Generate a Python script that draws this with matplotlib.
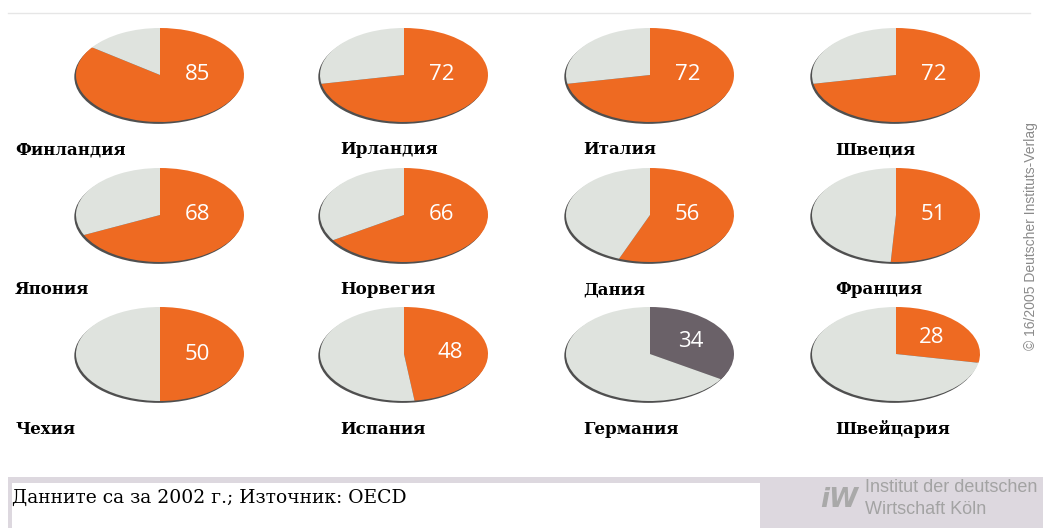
import matplotlib
matplotlib.use('Agg')
import matplotlib.pyplot as plt
import numpy as np
from matplotlib.patches import Ellipse, Rectangle

W, H = 1043, 528

# Data
countries = ["Финландия", "Ирландия", "Италия", "Швеция",
             "Япония", "Норвегия", "Дания", "Франция",
             "Чехия", "Испания", "Германия", "Швейцария"]
values = [85, 72, 72, 72, 68, 66, 56, 51, 50, 48, 34, 28]
highlight = ["Германия"]

note = "Данните са за 2002 г.; Източник: OECD"
copyright_text = "© 16/2005 Deutscher Instituts-Verlag"
logo_lines = ["Institut der deutschen", "Wirtschaft Köln"]

ORANGE = "#ee6a22"
LIGHT = "#dfe3de"
DARK = "#6a6168"
SHADOW = "#4f4f4f"

col_x = [160, 404, 650, 896]
row_y = [75, 215, 354]
label_x = [15, 340, 583, 835]
label_dy = 75
rx, ry = 84, 47

fig = plt.figure(figsize=(W / 100, H / 100), dpi=100)
bg = fig.add_axes([0, 0, 1, 1])
bg.set_xlim(0, W)
bg.set_ylim(H, 0)
bg.axis("off")

# top rule
bg.plot([8, 1030], [13, 13], color="#e6e6e6", lw=1)

# bottom band
bg.add_patch(Rectangle((8, 477), W - 8, H - 477, color="#ddd8df", lw=0))
bg.add_patch(Rectangle((12, 483), 748, H - 483, color="white", lw=0))
bg.text(12, 498, note, family="DejaVu Serif", fontsize=13.5, va="center", ha="left", color="black")
bg.text(820, 500, "iW", family="DejaVu Sans", fontsize=19, fontweight="bold", style="italic",
        color="#a9a9a9", va="center", ha="left")
bg.text(865, 487, logo_lines[0], family="Liberation Sans", fontsize=13, color="#a3a3a3", va="center")
bg.text(865, 509, logo_lines[1], family="Liberation Sans", fontsize=13, color="#a3a3a3", va="center")
bg.text(1031, 236, copyright_text, family="Liberation Sans", fontsize=10, color="#8a8a8a",
        rotation=90, va="center", ha="center")

for i, (name, v) in enumerate(zip(countries, values)):
    r, c = divmod(i, 4)
    cx, cy = col_x[c], row_y[r]
    ax = fig.add_axes([(cx - rx) / W, 1 - (cy + ry) / H, 2 * rx / W, 2 * ry / H])
    color = DARK if name in highlight else ORANGE
    ax.add_patch(Ellipse((-0.02, -0.04), 2, 2, color=SHADOW, lw=0, clip_on=False, zorder=0))
    wedges, _ = ax.pie([v, 100 - v], colors=[color, LIGHT], startangle=90, counterclock=False,
                       radius=1, wedgeprops=dict(lw=0))
    for w in wedges:
        w.set_clip_on(False)
        w.set_zorder(1)
    ax.set_aspect("auto")
    ax.set_xlim(-1, 1)
    ax.set_ylim(-1, 1)
    ax.axis("off")
    if v >= 50:
        tx, ty = 0.45, 0.0
    else:
        a = np.deg2rad(90 - v / 2 * 3.6)
        tx, ty = 0.55 * np.cos(a), 0.55 * np.sin(a)
    ax.text(tx, ty, str(v), color="white", fontsize=16, family="Open Sans",
            ha="center", va="center", zorder=3)
    bg.text(label_x[c], cy + label_dy, name, family="DejaVu Serif", fontsize=12, fontweight="bold",
            va="center", ha="left", color="black")

fig.savefig("out.png", dpi=100)
